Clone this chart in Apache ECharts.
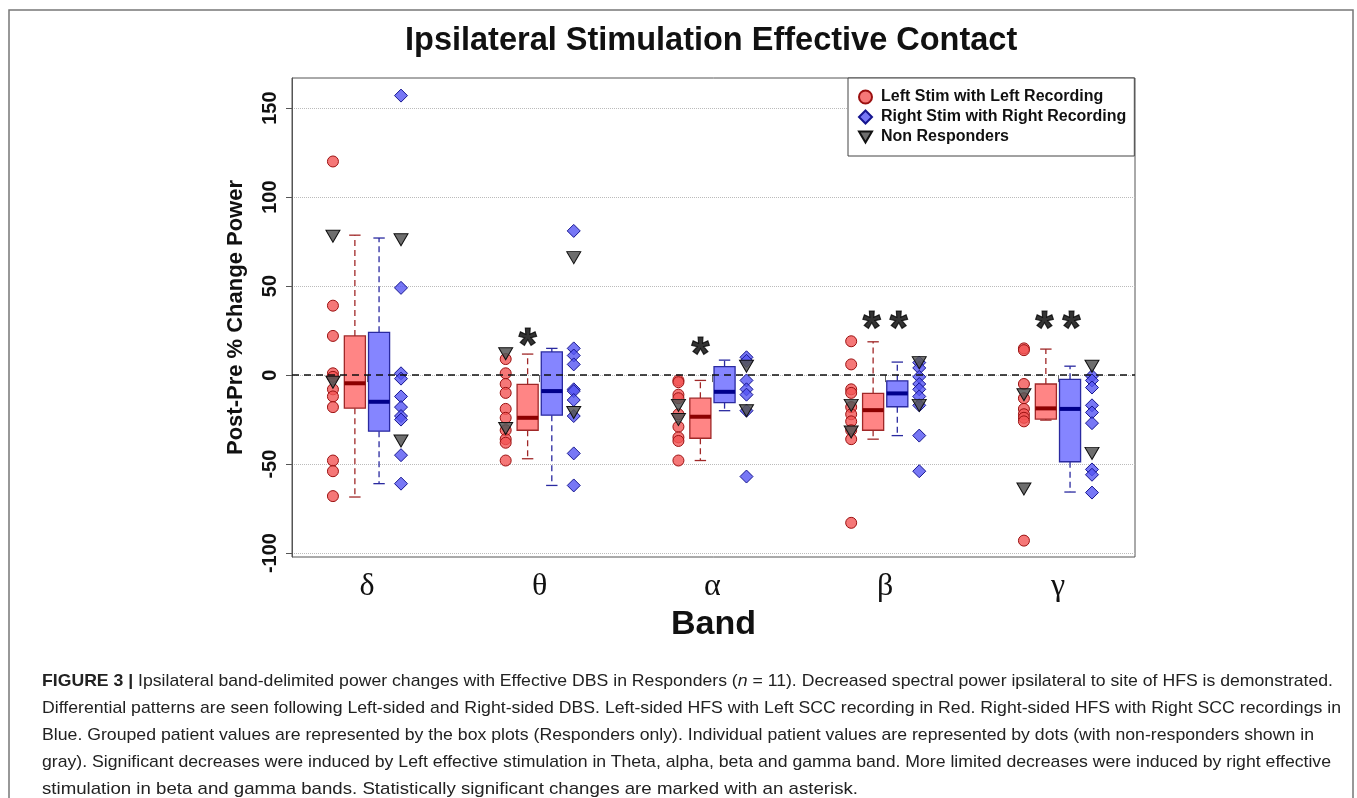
<!DOCTYPE html>
<html>
<head>
<meta charset="utf-8">
<title>Ipsilateral Stimulation Effective Contact</title>
<script src="https://cdn.jsdelivr.net/npm/echarts@6/dist/echarts.min.js"></script>
<style>
  html, body { margin: 0; padding: 0; background: #fff; }
  #chart { position: absolute; left: 0; top: 0; width: 1357px; height: 798px; }
  .cap {
    position: absolute; left: 42px; white-space: nowrap;
    font-family: 'Liberation Sans Narrow', 'Liberation Sans', Arial, sans-serif;
    font-size: 17px; line-height: 20px; color: #222; transform-origin: 0 50%;
  }
</style>
</head>
<body>
<div id="chart"></div>
<div id="caption"></div>
<script>
const bands = ['δ', 'θ', 'α', 'β', 'γ'];
const yTicks = [-100, -50, 0, 50, 100, 150];

// individual values per band (δ, θ, α, β, γ)
const leftDots = [
  [120, 39, 22, 1, -1, -8, -12, -18, -48, -54, -68],
  [9, 1, -5, -10, -19, -24, -31, -36, -38, -48],
  [-3, -4, -11, -13, -22, -29, -35, -37, -48],
  [19, 6, -8, -10, -18, -22, -26, -31, -36, -83],
  [15, 14, -5, -13, -19, -22, -24, -26, -93]
];
const rightDots = [
  [157, 49, 1, -2, -12, -18, -23, -25, -45, -61],
  [81, 15, 11, 6, -8, -9, -14, -23, -44, -62],
  [10, 8, -3, -8, -11, -20, -57],
  [7, 4, -1, -5, -8, -12, -17, -34, -54],
  [-0.5, -3, -7, -17, -21, -27, -53, -56, -66]
];
const nonRespLeft = [[78, -4], [12, -30], [-17, -25], [-17, -32], [-11, -64]];
const nonRespRight = [[76, -37], [66, -21], [5, -20], [7, -17], [5, -44]];

// box stats: [lower whisker, q1, median, q3, upper whisker]
const leftBoxes = [
  [-68.5, -18.6, -4.6, 22, 78.6],
  [-47, -31, -24, -5.2, 11.8],
  [-48, -35.5, -23.4, -13, -3],
  [-36, -31, -19.7, -10.3, 18.7],
  [-25.3, -24.7, -18.7, -5, 14.6]
];
const rightBoxes = [
  [-61, -31.5, -15, 24, 77],
  [-62, -22.5, -9, 13, 15],
  [-20, -15.5, -9.4, 4.7, 8.4],
  [-34, -17.8, -10.3, -3.2, 7.3],
  [-65.7, -48.7, -19, -2.4, 5]
];

// significance marks
const sigLabels = ['', '*', '*', '**', '**'];
const sigValues = [null, 21, 16, 31, 31];

const captionLines = [
  '<b>FIGURE 3 |</b> Ipsilateral band-delimited power changes with Effective DBS in Responders (<i>n</i> = 11). Decreased spectral power ipsilateral to site of HFS is demonstrated.',
  'Differential patterns are seen following Left-sided and Right-sided DBS. Left-sided HFS with Left SCC recording in Red. Right-sided HFS with Right SCC recordings in',
  'Blue. Grouped patient values are represented by the box plots (Responders only). Individual patient values are represented by dots (with non-responders shown in',
  'gray). Significant decreases were induced by Left effective stimulation in Theta, alpha, beta and gamma band. More limited decreases were induced by right effective',
  'stimulation in beta and gamma bands. Statistically significant changes are marked with an asterisk.'
];
const captionEnds = [1333, 1341, 1314, 1331, 858];

const FONT = 'Liberation Sans, Arial, sans-serif';
const DOT_OFF = 0.197;
const BOX_OFF = 0.07;
const BOX_HALF = 0.061;
const CAP_HALF = 0.033;

const chart = echarts.init(document.getElementById('chart'));

function points(lists, offset) {
  const out = [];
  lists.forEach((vals, i) => vals.forEach(v => out.push([i + 1 + offset, v])));
  return out;
}

function boxSeries(stats, offset, fill, stroke, medColor) {
  return {
    type: 'custom',
    z: 2,
    silent: true,
    data: stats.map((s, i) => [i + 1 + offset].concat(s)),
    encode: { x: 0, y: [1, 2, 3, 4, 5] },
    renderItem: function (params, api) {
      const x = api.value(0);
      const yLo = api.coord([x, api.value(1)])[1];
      const yQ1 = api.coord([x, api.value(2)])[1];
      const yMd = api.coord([x, api.value(3)])[1];
      const yQ3 = api.coord([x, api.value(4)])[1];
      const yHi = api.coord([x, api.value(5)])[1];
      const cx = api.coord([x, 0])[0];
      const bl = api.coord([x - BOX_HALF, 0])[0];
      const br = api.coord([x + BOX_HALF, 0])[0];
      const cl = api.coord([x - CAP_HALF, 0])[0];
      const cr = api.coord([x + CAP_HALF, 0])[0];
      const dash = { stroke: stroke, lineWidth: 1.3, lineDash: [6, 4] };
      const solid = { stroke: stroke, lineWidth: 1.3 };
      return {
        type: 'group',
        children: [
          { type: 'line', shape: { x1: cx, y1: yQ3, x2: cx, y2: yHi }, style: dash },
          { type: 'line', shape: { x1: cx, y1: yQ1, x2: cx, y2: yLo }, style: dash },
          { type: 'line', shape: { x1: cl, y1: yHi, x2: cr, y2: yHi }, style: solid },
          { type: 'line', shape: { x1: cl, y1: yLo, x2: cr, y2: yLo }, style: solid },
          { type: 'rect', shape: { x: bl, y: yQ3, width: br - bl, height: yQ1 - yQ3 },
            style: { fill: fill, stroke: stroke, lineWidth: 1.3 } },
          { type: 'line', shape: { x1: bl, y1: yMd, x2: br, y2: yMd },
            style: { stroke: medColor, lineWidth: 4 } }
        ]
      };
    }
  };
}

const sigData = [];
sigLabels.forEach((t, i) => {
  if (!t) return;
  const off = t.length === 1 ? -BOX_OFF : 0;
  sigData.push({ value: [i + 1 + off, sigValues[i]], name: t });
});

const option = {
  animation: false,
  title: {
    text: 'Ipsilateral Stimulation Effective Contact',
    left: 405,
    top: 25,
    padding: 0,
    textStyle: { fontFamily: FONT, fontSize: 32.5, fontWeight: 'bold', color: '#111' }
  },
  graphic: [{
    type: 'rect', silent: true, z: -1,
    shape: { x: 9, y: 10, width: 1344, height: 800 },
    style: { fill: 'none', stroke: '#777', lineWidth: 1.5 }
  }],
  legend: {
    orient: 'vertical',
    left: 848,
    top: 78,
    padding: [11, 8, 11, 10],
    itemWidth: 13,
    itemHeight: 13,
    itemGap: 4,
    backgroundColor: '#fff',
    borderColor: '#444',
    borderWidth: 1,
    borderRadius: 0,
    textStyle: { fontFamily: FONT, fontSize: 16, fontWeight: 'bold', color: '#111', padding: [0, 0, 0, 4] },
    data: [
      { name: 'Left Stim with Left Recording' },
      { name: 'Right Stim with Right Recording' },
      { name: 'Non Responders', icon: 'path://M0,0 L14,0 L7,12 Z' }
    ]
  },
  grid: { left: 292, top: 78, right: 222, bottom: 241, show: true, borderColor: '#555', borderWidth: 1 },
  xAxis: {
    type: 'value',
    min: 0.566,
    max: 5.446,
    axisLine: { show: false },
    splitLine: { show: false },
    axisTick: { customValues: [1, 2, 3, 4, 5], length: 7, lineStyle: { color: '#666' } },
    axisLabel: {
      customValues: [1, 2, 3, 4, 5],
      formatter: v => bands[Math.round(v) - 1],
      fontFamily: 'Liberation Serif, DejaVu Serif, serif',
      fontSize: 32,
      margin: 14,
      color: '#111'
    },
    name: 'Band',
    nameLocation: 'middle',
    nameGap: 49,
    nameTextStyle: { fontFamily: FONT, fontSize: 34, fontWeight: 'bold', color: '#111' }
  },
  yAxis: {
    type: 'value',
    min: -102.2,
    max: 166.9,
    axisLine: { show: true, lineStyle: { color: '#555' } },
    axisTick: { customValues: yTicks, length: 6, lineStyle: { color: '#555' } },
    axisLabel: {
      customValues: yTicks,
      rotate: 90,
      margin: 12,
      fontFamily: FONT,
      fontSize: 20,
      fontWeight: 'bold',
      color: '#111'
    },
    splitLine: { show: true, lineStyle: { type: 'dotted', color: '#bbb', width: 1 } },
    name: 'Post-Pre % Change Power',
    nameLocation: 'middle',
    nameRotate: 90,
    nameGap: 45,
    nameTextStyle: { fontFamily: FONT, fontSize: 22, fontWeight: 'bold', color: '#111' }
  },
  series: [
    boxSeries(leftBoxes, -BOX_OFF, 'rgba(255,120,120,0.9)', '#a02828', '#8b0000'),
    boxSeries(rightBoxes, BOX_OFF, 'rgba(120,120,255,0.9)', '#2a2aa0', '#00008b'),
    {
      name: 'Left Stim with Left Recording',
      type: 'scatter', z: 4, silent: true,
      symbol: 'circle', symbolSize: 11,
      itemStyle: { color: 'rgba(242,85,85,0.8)', borderColor: '#9b1010', borderWidth: 1, opacity: 1 },
      data: points(leftDots, -DOT_OFF)
    },
    {
      name: 'Right Stim with Right Recording',
      type: 'scatter', z: 4, silent: true,
      symbol: 'diamond', symbolSize: 13,
      itemStyle: { color: 'rgba(85,85,242,0.8)', borderColor: '#15158f', borderWidth: 1, opacity: 1 },
      data: points(rightDots, DOT_OFF)
    },
    {
      name: 'Non Responders',
      type: 'scatter', z: 4, silent: true,
      symbol: 'triangle', symbolSize: [14, 12], symbolRotate: 180,
      itemStyle: { color: 'rgba(85,85,85,0.85)', borderColor: '#111', borderWidth: 1, opacity: 1 },
      data: points(nonRespLeft, -DOT_OFF).concat(points(nonRespRight, DOT_OFF))
    },
    {
      type: 'scatter', z: 5, silent: true,
      symbolSize: 1,
      itemStyle: { color: 'rgba(0,0,0,0)' },
      label: {
        show: true, position: 'inside', offset: [0, 10],
        formatter: p => p.name.split('').join('\u2009'),
        fontFamily: FONT, fontSize: 46, fontWeight: 'bold', color: '#000',
        textBorderColor: '#000', textBorderWidth: 1.2
      },
      data: sigData,
      markLine: {
        silent: true,
        symbol: ['none', 'none'],
        label: { show: false },
        lineStyle: { color: '#111', type: [7, 5], width: 1.5 },
        data: [{ yAxis: 0 }]
      }
    }
  ]
};

chart.setOption(option);

// caption text below the figure
const capBox = document.getElementById('caption');
captionLines.forEach((html, i) => {
  const d = document.createElement('div');
  d.className = 'cap';
  d.innerHTML = html;
  d.style.top = (671 + i * 27) + 'px';
  capBox.appendChild(d);
  const w = d.getBoundingClientRect().width;
  d.style.transform = 'scaleX(' + ((captionEnds[i] - 42) / w).toFixed(4) + ')';
});
</script>
</body>
</html>
